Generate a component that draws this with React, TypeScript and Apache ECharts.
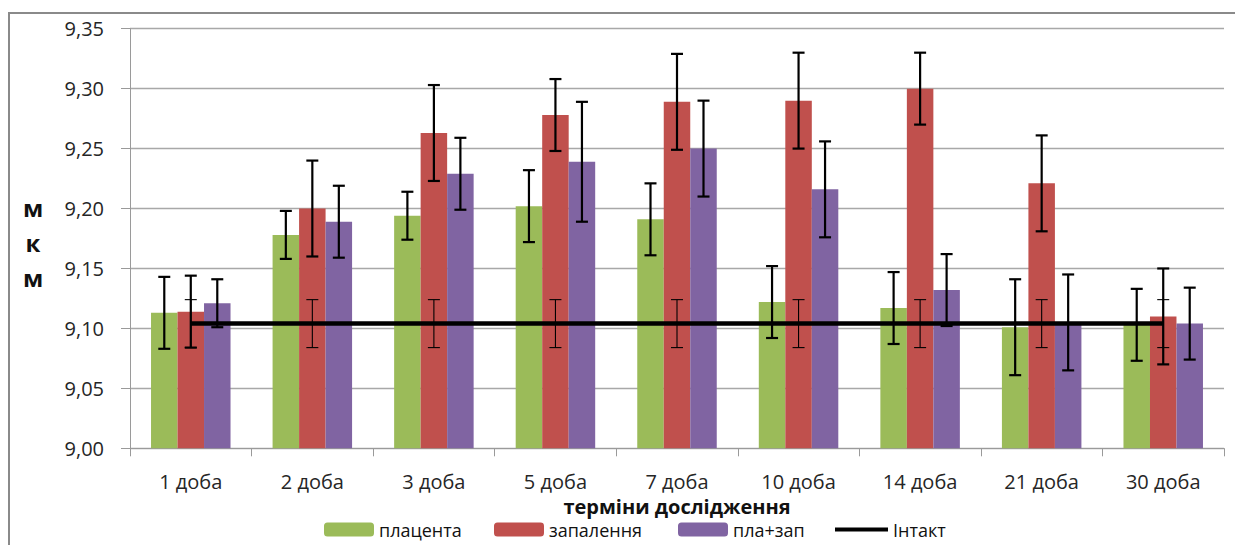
import React, { useEffect, useRef } from "react";
import * as echarts from "echarts";

const categories = ["1 доба", "2 доба", "3 доба", "5 доба", "7 доба", "10 доба", "14 доба", "21 доба", "30 доба"];
const placenta = [9.113, 9.178, 9.194, 9.202, 9.191, 9.122, 9.117, 9.101, 9.103];
const placentaErr = [0.03, 0.02, 0.02, 0.03, 0.03, 0.03, 0.03, 0.04, 0.03];
const inflammation = [9.114, 9.2, 9.263, 9.278, 9.289, 9.29, 9.3, 9.221, 9.11];
const inflammationErr = [0.03, 0.04, 0.04, 0.03, 0.04, 0.04, 0.03, 0.04, 0.04];
const combined = [9.121, 9.189, 9.229, 9.239, 9.25, 9.216, 9.132, 9.105, 9.104];
const combinedErr = [0.02, 0.03, 0.03, 0.05, 0.04, 0.04, 0.03, 0.04, 0.03];
const intact = [9.104, 9.104, 9.104, 9.104, 9.104, 9.104, 9.104, 9.104, 9.104];
const intactErr = [0.02, 0.02, 0.02, 0.02, 0.02, 0.02, 0.02, 0.02, 0.02];

const seriesNames = ["плацента", "запалення", "пла+зап", "Інтакт"];
const yMin = 9.0;
const yMax = 9.35;
const yStep = 0.05;

const FONT = "Open Sans";
const GAP = 0.346;

function errRender(offsetIdx: number, lw: number, cap: number) {
  return (_params: any, api: any) => {
    const i = api.value(0);
    const v = api.value(1);
    const e = api.value(2);
    const band = api.size([1, 0])[0];
    const bw = (band * (1 - GAP)) / 3;
    const top = api.coord([i, v + e]);
    const bot = api.coord([i, v - e]);
    const x = top[0] + offsetIdx * bw;
    const st = { stroke: "#000", lineWidth: lw };
    return {
      type: "group",
      children: [
        { type: "line", shape: { x1: x, y1: top[1], x2: x, y2: bot[1] }, style: st },
        { type: "line", shape: { x1: x - cap / 2, y1: top[1], x2: x + cap / 2, y2: top[1] }, style: st },
        { type: "line", shape: { x1: x - cap / 2, y1: bot[1], x2: x + cap / 2, y2: bot[1] }, style: st },
      ],
    };
  };
}

function errSeries(name: string, vals: number[], errs: number[], offsetIdx: number, lw: number, cap: number, z: number) {
  return {
    type: "custom",
    name,
    silent: true,
    z,
    renderItem: errRender(offsetIdx, lw, cap),
    encode: { x: 0, y: 1 },
    data: vals.map((v, i) => [i, v, errs[i]]),
  };
}

export default function App() {
  const ref = useRef<HTMLDivElement>(null);
  useEffect(() => {
    const chart = echarts.init(ref.current!, null, { renderer: "svg" });
    const legendCommon = {
      top: 512.5,
      padding: 0,
      itemWidth: 50,
      itemHeight: 14,
      itemGap: 0,
      textStyle: { fontFamily: FONT, fontSize: 18, lineHeight: 16, color: "#111" },
      selectedMode: false,
    };
    const option: any = {
      animation: false,
      textStyle: { fontFamily: FONT },
      grid: { left: 122, top: 20.7, width: 1094, height: 419.6, containLabel: false },
      legend: [
        { ...legendCommon, left: 316, data: [seriesNames[0]] },
        { ...legendCommon, left: 486, data: [seriesNames[1]] },
        { ...legendCommon, left: 670, data: [seriesNames[2]] },
        {
          ...legendCommon,
          left: 827,
          itemWidth: 53,
          itemHeight: 4,
          data: [{ name: seriesNames[3], icon: "rect", itemStyle: { color: "#000" } }],
        },
      ],
      xAxis: {
        type: "category",
        data: categories,
        boundaryGap: true,
        name: "терміни дослідження",
        nameLocation: "middle",
        nameGap: 47.5,
        nameTextStyle: { fontFamily: FONT, fontSize: 20, lineHeight: 17, fontWeight: "bold", color: "#111" },
        axisLine: { show: true, lineStyle: { color: "#9a9a9a", width: 1 } },
        axisTick: { show: true, length: 8, alignWithLabel: false, lineStyle: { color: "#9a9a9a" } },
        axisLabel: { fontFamily: FONT, fontSize: 20, color: "#262626", margin: 23, interval: 0 },
        splitLine: { show: false },
      },
      yAxis: {
        type: "value",
        min: yMin,
        max: yMax,
        interval: yStep,
        axisLine: { show: true, lineStyle: { color: "#9a9a9a", width: 1 } },
        axisTick: { show: true, length: 9, lineStyle: { color: "#9a9a9a" } },
        axisLabel: {
          fontFamily: FONT,
          fontSize: 20,
          color: "#262626",
          margin: 26,
          formatter: (v: number) => v.toFixed(2).replace(".", ","),
        },
        splitLine: { show: true, lineStyle: { color: "#a8a8a8", width: 1.3 } },
      },
      graphic: [
        {
          type: "rect",
          z: -10,
          shape: { x: 1, y: 5, width: 1300, height: 600 },
          style: { fill: "none", stroke: "#8a8a8a", lineWidth: 2 },
        },
        { type: "text", x: 25, y: 199, style: { text: "м", fontFamily: FONT, fontSize: 24, fontWeight: "bold", fill: "#111", align: "center", verticalAlign: "middle" } },
        { type: "text", x: 25, y: 234, style: { text: "к", fontFamily: FONT, fontSize: 24, fontWeight: "bold", fill: "#111", align: "center", verticalAlign: "middle" } },
        { type: "text", x: 25, y: 269, style: { text: "м", fontFamily: FONT, fontSize: 24, fontWeight: "bold", fill: "#111", align: "center", verticalAlign: "middle" } },
      ],
      series: [
        {
          type: "bar",
          name: seriesNames[0],
          data: placenta,
          barGap: "0%",
          barCategoryGap: GAP * 100 + "%",
          itemStyle: { color: "#9BBB59" },
          z: 2,
        },
        { type: "bar", name: seriesNames[1], data: inflammation, itemStyle: { color: "#C0504D" }, z: 2 },
        { type: "bar", name: seriesNames[2], data: combined, itemStyle: { color: "#8064A2" }, z: 2 },
        {
          type: "line",
          name: seriesNames[3],
          data: intact,
          symbol: "none",
          lineStyle: { color: "#000", width: 4.5 },
          itemStyle: { color: "#000" },
          z: 4,
        },
        errSeries("err-intact", intact, intactErr, 0, 1.1, 12, 5),
        errSeries("err-placenta", placenta, placentaErr, -1, 2.2, 12, 6),
        errSeries("err-inflammation", inflammation, inflammationErr, 0, 2.2, 12, 6),
        errSeries("err-combined", combined, combinedErr, 1, 2.2, 12, 6),
      ],
    };
    chart.setOption(option);
    return () => chart.dispose();
  }, []);
  return <div ref={ref} style={{ width: 1235, height: 537 }} />;
}
